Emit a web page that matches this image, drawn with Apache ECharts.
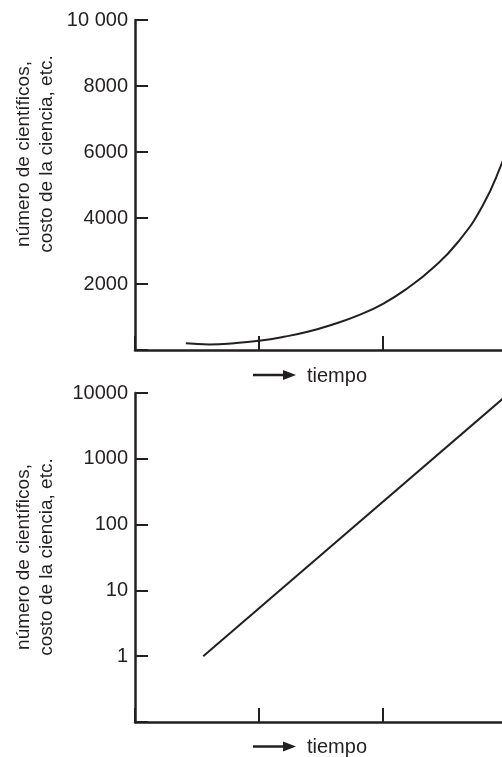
<!DOCTYPE html>
<html>
<head>
<meta charset="utf-8">
<script src="https://cdn.jsdelivr.net/npm/echarts@6/dist/echarts.min.js"></script>
<style>
html,body{margin:0;padding:0;background:#fff;}
#c{width:502px;height:757px;}
</style>
</head>
<body>
<div id="c"></div>
<script>
// Top chart: linear scale, exponential growth curve
var topX = [0.41, 0.60, 0.80, 1.00, 1.20, 1.40, 1.60, 1.80, 2.00, 2.20, 2.40, 2.60, 2.80, 2.96, 3.04];
var topY = [205, 170, 205, 280, 400, 560, 780, 1050, 1400, 1880, 2480, 3250, 4350, 5670, 6500];
var topTicks = [0, 2000, 4000, 6000, 8000, 10000];
var topTickLabels = ['', '2000', '4000', '6000', '8000', '10 000'];

// Bottom chart: log scale, straight line
var botX = [0.55, 3.02];
var botY = [1, 10000];
var botTickLabels = {'1': '1', '10': '10', '100': '100', '1000': '1000', '10000': '10000'};

var yName = 'número de científicos,\ncosto de la ciencia, etc.';
var xName = 'tiempo';

var INK = '#231f20';
var FONT = '"Liberation Sans", Arial, Helvetica, sans-serif';

function zip(a, b) { return a.map(function (v, i) { return [v, b[i]]; }); }

var chart = echarts.init(document.getElementById('c'), null, {renderer: 'canvas'});

var axisLineStyle = {color: INK, width: 2.5};
var xAxisCommon = {
  type: 'value', min: 0, max: 3, interval: 1,
  axisLine: {show: true, lineStyle: axisLineStyle},
  axisTick: {show: true, inside: true, length: 14, lineStyle: {color: INK, width: 2}},
  axisLabel: {show: false},
  splitLine: {show: false}
};

function arrowLabel(yArrow, yText) {
  return [
    {type: 'line', shape: {x1: 253, y1: yArrow, x2: 286, y2: yArrow},
     style: {stroke: INK, lineWidth: 2.5}, silent: true},
    {type: 'polygon', shape: {points: [[283, yArrow - 5], [296, yArrow], [283, yArrow + 5]]},
     style: {fill: INK}, silent: true},
    {type: 'text', x: 307, y: yText,
     style: {text: xName, fill: INK, font: '20px ' + FONT, textAlign: 'left', textVerticalAlign: 'middle'}, silent: true}
  ];
}

function yLabel(cy) {
  return {type: 'text', x: 35.5, y: cy, rotation: Math.PI / 2,
    style: {text: yName, fill: INK, font: '19px ' + FONT, textAlign: 'center',
            textVerticalAlign: 'middle', lineHeight: 23}, silent: true};
}

var option = {
  animation: false,
  backgroundColor: '#fff',
  grid: [
    {left: 135, top: 20, width: 372, height: 330, outerBoundsMode: 'none', containLabel: false},
    {left: 135, top: 393, width: 372, height: 329, outerBoundsMode: 'none', containLabel: false}
  ],
  xAxis: [
    Object.assign({gridIndex: 0}, xAxisCommon),
    Object.assign({gridIndex: 1}, xAxisCommon)
  ],
  yAxis: [
    {
      gridIndex: 0, type: 'value', min: 0, max: 10000, interval: 2000,
      axisLine: {show: true, lineStyle: axisLineStyle},
      axisTick: {show: true, inside: true, length: 13, lineStyle: {color: INK, width: 2}},
      axisLabel: {
        color: INK, fontSize: 20, fontFamily: FONT, margin: 7,
        formatter: function (v) { var i = topTicks.indexOf(v); return i >= 0 ? topTickLabels[i] : ''; }
      },
      splitLine: {show: false}
    },
    {
      gridIndex: 1, type: 'log', logBase: 10, min: 0.1, max: 10000,
      axisLine: {show: true, lineStyle: axisLineStyle},
      axisTick: {show: true, inside: true, length: 13, lineStyle: {color: INK, width: 2}},
      axisLabel: {
        color: INK, fontSize: 20, fontFamily: FONT, margin: 7,
        formatter: function (v) { var k = String(Math.round(v)); return (v >= 0.5 && botTickLabels[k]) ? botTickLabels[k] : ''; }
      },
      splitLine: {show: false}
    }
  ],
  series: [
    {type: 'line', xAxisIndex: 0, yAxisIndex: 0, data: zip(topX, topY), smooth: 0.5,
     showSymbol: false, lineStyle: {color: INK, width: 2}, clip: true},
    {type: 'line', xAxisIndex: 1, yAxisIndex: 1, data: zip(botX, botY), smooth: false,
     showSymbol: false, lineStyle: {color: INK, width: 2}, clip: true}
  ],
  graphic: [yLabel(154), yLabel(557)]
    .concat(arrowLabel(375, 376))
    .concat(arrowLabel(746.5, 747.5))
};

chart.setOption(option);
</script>
</body>
</html>
